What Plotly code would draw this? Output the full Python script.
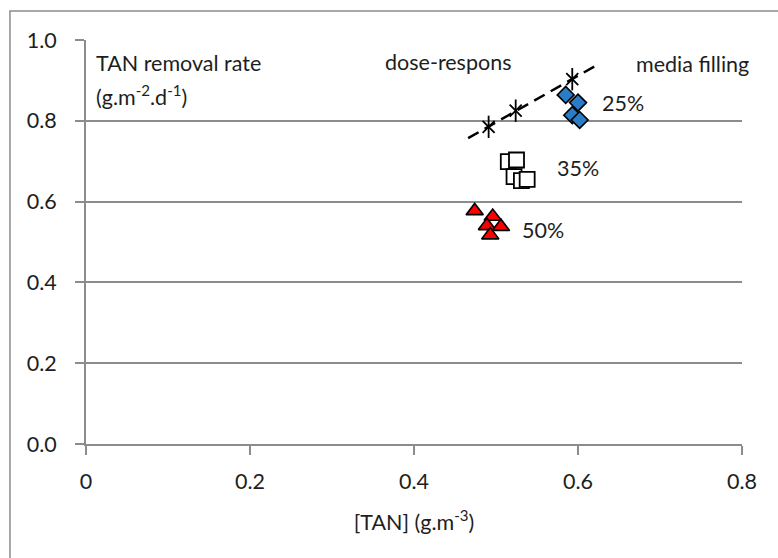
import numpy as np
import plotly.graph_objects as go

# ---- data ----
dose_x = [0.491, 0.524, 0.593]
dose_y = [0.785, 0.825, 0.903]
trend_x_range = [0.466, 0.622]

fill25_x = [0.585, 0.600, 0.593, 0.602]
fill25_y = [0.864, 0.845, 0.814, 0.802]

fill35_x = [0.515, 0.525, 0.522, 0.531, 0.538]
fill35_y = [0.699, 0.703, 0.662, 0.652, 0.655]

fill50_x = [0.474, 0.496, 0.489, 0.506, 0.493]
fill50_y = [0.577, 0.563, 0.540, 0.538, 0.517]

x_ticks = [0, 0.2, 0.4, 0.6, 0.8]
x_ticklabels = ["0", "0.2", "0.4", "0.6", "0.8"]
y_ticks = [0.0, 0.2, 0.4, 0.6, 0.8, 1.0]
y_ticklabels = ["0.0", "0.2", "0.4", "0.6", "0.8", "1.0"]

FONT = "Lato"
GRID = "#8c8c8c"
TXT = "#1e1e1e"
FS = 21.5

slope, intercept = np.polyfit(dose_x, dose_y, 1)
tx = np.array(trend_x_range)
ty = slope * tx + intercept

fig = go.Figure()
fig.add_trace(go.Scatter(x=tx, y=ty, mode="lines",
                         line=dict(color="black", width=2.5, dash="12px,7px"),
                         showlegend=False, hoverinfo="skip"))
fig.add_trace(go.Scatter(x=dose_x, y=dose_y, mode="markers",
                         marker=dict(symbol="x-thin-open", size=12, color="black",
                                     line=dict(color="black", width=1.8)),
                         showlegend=False))
fig.add_trace(go.Scatter(x=dose_x, y=dose_y, mode="markers",
                         marker=dict(symbol="line-ns-open", size=16, color="black",
                                     line=dict(color="black", width=1.8)),
                         showlegend=False))
fig.add_trace(go.Scatter(x=fill25_x, y=fill25_y, mode="markers",
                         marker=dict(symbol="diamond", size=13, color="#2a7cc7",
                                     line=dict(color="black", width=1.6)),
                         showlegend=False))
fig.add_trace(go.Scatter(x=fill35_x, y=fill35_y, mode="markers",
                         marker=dict(symbol="square", size=15, color="white",
                                     line=dict(color="black", width=1.8)),
                         showlegend=False))
fig.add_trace(go.Scatter(x=fill50_x, y=fill50_y, mode="markers",
                         marker=dict(symbol="triangle-up", size=15, color="#ff0000",
                                     line=dict(color="black", width=1.6)),
                         showlegend=False))

ann_font = dict(family=FONT, size=FS, color=TXT)
annotations = [
    dict(x=0.010, y=0.943, text="TAN removal rate", xanchor="left"),
    dict(x=0.010, y=0.862, text="(g.m<sup>-2</sup>.d<sup>-1</sup>)", xanchor="left"),
    dict(x=0.362, y=0.946, text="dose-respons", xanchor="left"),
    dict(x=0.668, y=0.940, text="media filling", xanchor="left"),
    dict(x=0.627, y=0.843, text="25%", xanchor="left"),
    dict(x=0.572, y=0.683, text="35%", xanchor="left"),
    dict(x=0.529, y=0.530, text="50%", xanchor="left"),
]
for a in annotations:
    a.update(xref="x", yref="y", showarrow=False, yanchor="middle", font=ann_font)

fig.update_layout(
    width=778, height=558,
    margin=dict(l=86, r=36, t=40, b=114),
    paper_bgcolor="white", plot_bgcolor="white",
    font=dict(family=FONT, size=FS, color=TXT),
    annotations=annotations,
    shapes=[dict(type="rect", xref="paper", yref="paper",
                 x0=-0.1159, x1=1.2, y0=-0.4, y1=1.0718,
                 line=dict(color="#8c8c8c", width=1.5), layer="below")],
    xaxis=dict(range=[0, 0.8], tickvals=x_ticks, ticktext=x_ticklabels,
               showgrid=False, zeroline=False, showline=True, linecolor=GRID,
               linewidth=2, ticks="outside", ticklen=9, tickwidth=2, tickcolor=GRID,
               ticklabelstandoff=8,
               tickfont=dict(family=FONT, size=FS, color=TXT),
               title=dict(text="[TAN] (g.m<sup>-3</sup>)", standoff=22,
                          font=dict(family=FONT, size=FS, color=TXT))),
    yaxis=dict(range=[0, 1.0], tickvals=y_ticks, ticktext=y_ticklabels,
               showgrid=True, gridcolor=GRID, gridwidth=2, zeroline=False,
               showline=True, linecolor=GRID, linewidth=2,
               ticks="outside", ticklen=9, tickwidth=2, tickcolor=GRID,
               ticklabelstandoff=14,
               tickfont=dict(family=FONT, size=FS, color=TXT)),
)

fig.write_html("out.html")
